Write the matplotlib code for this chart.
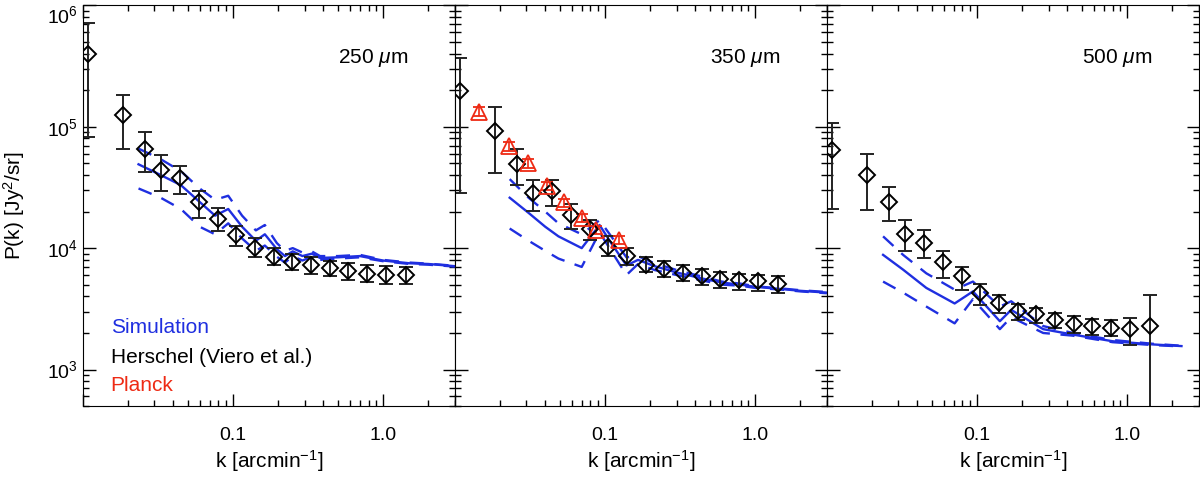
import numpy as np
import matplotlib
matplotlib.use("Agg")
import matplotlib.pyplot as plt
from matplotlib.ticker import LogLocator, FixedLocator, FixedFormatter, NullFormatter

plt.rcParams['font.family'] = ['Liberation Sans', 'DejaVu Sans']
plt.rcParams['mathtext.fontset'] = 'custom'
plt.rcParams['mathtext.rm'] = 'Liberation Sans'
plt.rcParams['mathtext.it'] = 'Liberation Sans:italic'

# Herschel (Viero et al.) band powers, same k bins in every band
k_herschel = [0.0108, 0.0184, 0.0261, 0.0332, 0.0443, 0.0594, 0.0796, 0.104, 0.141,
              0.187, 0.248, 0.333, 0.44, 0.583, 0.781, 1.05, 1.41]

p250 = [3.94e5, 1.25e5, 6.6e4, 4.4e4, 3.77e4, 2.39e4, 1.75e4, 1.28e4, 1.0e4,
        8.45e3, 7.7e3, 7.3e3, 6.8e3, 6.45e3, 6.17e3, 6.0e3, 6.0e3]
p250_hi = [7.1e5, 1.82e5, 9.0e4, 5.85e4, 4.75e4, 2.98e4, 2.14e4, 1.51e4, 1.2e4,
           1.0e4, 8.9e3, 8.4e3, 7.9e3, 7.5e3, 7.2e3, 7.08e3, 7.0e3]
p250_lo = [8.2e4, 6.6e4, 4.2e4, 2.98e4, 2.78e4, 1.77e4, 1.39e4, 1.05e4, 8.45e3,
           7.2e3, 6.6e3, 6.1e3, 5.85e3, 5.5e3, 5.26e3, 5.1e3, 5.05e3]

p350 = [1.98e5, 9.3e4, 4.9e4, 2.87e4, 2.98e4, 1.88e4, 1.44e4, 1.03e4, 8.67e3,
        7.2e3, 6.73e3, 6.24e3, 5.93e3, 5.57e3, 5.5e3, 5.33e3, 5.07e3]
p350_hi = [3.65e5, 1.44e5, 6.5e4, 3.65e4, 3.65e4, 2.32e4, 1.71e4, 1.25e4, 1.0e4,
           8.45e3, 7.9e3, 7.2e3, 6.78e3, 6.3e3, 6.12e3, 6.0e3, 5.85e3]
p350_lo = [2.87e4, 4.14e4, 3.32e4, 2.04e4, 2.24e4, 1.44e4, 1.17e4, 8.67e3, 7.2e3,
           6.3e3, 5.74e3, 5.33e3, 4.94e3, 4.67e3, 4.55e3, 4.4e3, 4.28e3]

p500 = [6.45e4, 4.0e4, 2.42e4, 1.31e4, 1.11e4, 7.63e3, 5.86e3, 4.28e3, 3.54e3,
        3.02e3, 2.84e3, 2.55e3, 2.35e3, 2.27e3, 2.2e3, 2.14e3, 2.3e3]
p500_hi = [1.08e5, 5.93e4, 3.18e4, 1.69e4, 1.4e4, 9.5e3, 7.0e3, 5.1e3, 4.14e3,
           3.49e3, 3.22e3, 2.93e3, 2.75e3, 2.63e3, 2.58e3, 2.66e3, 4.08e3]
p500_lo = [2.1e4, 2.07e4, 1.66e4, 9.4e3, 8.3e3, 5.68e3, 4.55e3, 3.43e3, 2.93e3,
           2.55e3, 2.43e3, 2.2e3, 2.0e3, 1.94e3, 1.9e3, 1.58e3, 1e2]

# Planck points (350 micron panel only)
k_planck = [0.0145, 0.0229, 0.0308, 0.0408, 0.0532, 0.0698, 0.0877, 0.1236]
p_planck = [1.33e5, 6.9e4, 5.0e4, 3.26e4, 2.38e4, 1.77e4, 1.42e4, 1.17e4]
p_planck_hi = [1.45e5, 7.5e4, 5.4e4, 3.5e4, 2.56e4, 1.91e4, 1.53e4, 1.26e4]
p_planck_lo = [1.22e5, 6.3e4, 4.6e4, 3.0e4, 2.2e4, 1.63e4, 1.31e4, 1.08e4]

# Simulation: mean (solid) and upper / lower (dashed)
k_sim250 = [0.0235, 0.033, 0.045, 0.060, 0.076, 0.093, 0.115, 0.142, 0.163, 0.196,
            0.222, 0.25, 0.29, 0.335, 0.38, 0.5, 0.7, 1.0, 1.5, 2.0, 3.0]
sim250 = [4.9e4, 4.0e4, 3.3e4, 2.4e4, 1.85e4, 2.1e4, 1.5e4, 1.15e4, 1.3e4, 9.8e3,
          8.6e3, 9.4e3, 8.6e3, 9.0e3, 8.3e3, 8.4e3, 8.6e3, 7.9e3, 7.5e3, 7.4e3, 7.1e3]
sim250_up = [6.6e4, 5.4e4, 4.3e4, 3.1e4, 2.5e4, 2.7e4, 1.85e4, 1.4e4, 1.55e4, 1.1e4,
             9.5e3, 1.0e4, 9.2e3, 9.4e3, 8.6e3, 8.6e3, 8.8e3, 8.0e3, 7.6e3, 7.45e3, 7.15e3]
sim250_dn = [3.1e4, 2.6e4, 2.1e4, 1.5e4, 1.3e4, 1.6e4, 1.2e4, 9.5e3, 1.05e4, 8.5e3,
             7.6e3, 8.6e3, 7.9e3, 8.5e3, 8.0e3, 8.2e3, 8.4e3, 7.8e3, 7.4e3, 7.3e3, 7.05e3]

k_sim350 = [0.0232, 0.031, 0.040, 0.049, 0.070, 0.092, 0.11, 0.139, 0.166, 0.214,
            0.3, 0.45, 0.6, 0.8, 1.0, 1.5, 2.0, 3.0]
sim350 = [2.6e4, 1.95e4, 1.5e4, 1.25e4, 1.0e4, 1.55e4, 1.1e4, 7.2e3, 8.0e3, 7.1e3,
          6.3e3, 5.6e3, 5.2e3, 5.0e3, 4.8e3, 4.6e3, 4.45e3, 4.3e3]
sim350_up = [3.7e4, 2.6e4, 2.0e4, 1.6e4, 1.3e4, 1.7e4, 1.25e4, 8.4e3, 8.6e3, 7.5e3,
             6.6e3, 5.8e3, 5.3e3, 5.1e3, 4.85e3, 4.65e3, 4.5e3, 4.35e3]
sim350_dn = [1.45e4, 1.15e4, 9.5e3, 8.2e3, 7.0e3, 1.35e4, 9.5e3, 6.0e3, 7.4e3, 6.6e3,
             6.0e3, 5.4e3, 5.0e3, 4.9e3, 4.7e3, 4.55e3, 4.4e3, 4.25e3]

k_sim500 = [0.0237, 0.0322, 0.046, 0.071, 0.094, 0.142, 0.169, 0.276, 0.436, 0.80, 1.48, 2.3]
sim500 = [8.8e3, 6.65e3, 4.7e3, 3.5e3, 4.4e3, 2.5e3, 3.1e3, 2.15e3, 1.94e3, 1.71e3, 1.61e3, 1.56e3]
sim500_up = [1.25e4, 8.8e3, 6.2e3, 4.55e3, 5.3e3, 3.3e3, 3.65e3, 2.28e3, 2.0e3, 1.75e3, 1.63e3, 1.57e3]
sim500_dn = [5.3e3, 4.3e3, 3.3e3, 2.4e3, 3.8e3, 2.15e3, 2.7e3, 2.0e3, 1.9e3, 1.68e3, 1.59e3, 1.55e3]

bands = ['250 $\\mu$m', '350 $\\mu$m', '500 $\\mu$m']

BLUE = '#1f2fe0'
RED = '#ee2a14'

panels = [
    (k_sim250, sim250, sim250_up, sim250_dn, p250, p250_lo, p250_hi),
    (k_sim350, sim350, sim350_up, sim350_dn, p350, p350_lo, p350_hi),
    (k_sim500, sim500, sim500_up, sim500_dn, p500, p500_lo, p500_hi),
]

fig, axes = plt.subplots(1, 3, figsize=(12, 4.8), dpi=100, sharey=True)
fig.subplots_adjust(left=0.069, right=0.999, bottom=0.154, top=0.989, wspace=0)

for i, (ax, pan) in enumerate(zip(axes, panels)):
    ks, s, su, sd, p, plo, phi = pan
    ax.plot(ks, s, color=BLUE, lw=1.7)
    ax.plot(ks, su, color=BLUE, lw=1.7, dashes=(6, 4.5))
    ax.plot(ks, sd, color=BLUE, lw=1.7, dashes=(6, 4.5))

    p = np.array(p)
    yerr = [p - np.array(plo), np.array(phi) - p]
    ax.errorbar(k_herschel, p, yerr=yerr, fmt='D', ms=8, mfc='none', mec='black',
                mew=1.4, ecolor='#222222', elinewidth=1.4, capsize=5, capthick=1.4)

    if i == 1:
        pp = np.array(p_planck)
        perr = [pp - np.array(p_planck_lo), np.array(p_planck_hi) - pp]
        ax.errorbar(k_planck, pp, yerr=perr, fmt='^', ms=11, mfc='none', mec=RED,
                    mew=1.3, ecolor=RED, elinewidth=1.2, capsize=4.5, capthick=1.2)

    ax.set_xscale('log')
    ax.set_yscale('log')
    ax.set_xlim(0.01, 3.0)
    ax.set_ylim(500, 1e6)

    ax.xaxis.set_major_locator(FixedLocator([0.01, 0.1, 1.0]))
    ax.xaxis.set_major_formatter(FixedFormatter(['', '0.1', '1.0']))
    ax.xaxis.set_minor_locator(LogLocator(base=10, subs=np.arange(2, 10)))
    ax.xaxis.set_minor_formatter(NullFormatter())
    ax.yaxis.set_minor_locator(LogLocator(base=10, subs=np.arange(2, 10)))
    ax.yaxis.set_minor_formatter(NullFormatter())
    ax.tick_params(which='both', direction='in', top=True, right=True,
                   labelsize=14, width=1)
    ax.tick_params(which='major', length=9)
    ax.tick_params(which='minor', length=4.5)
    ax.tick_params(axis='x', which='major', pad=15)
    if i > 0:
        ax.tick_params(labelleft=False)

    ax.set_xlabel('k [arcmin$^{-1}$]', fontsize=15)
    ax.xaxis.set_label_coords(0.5, -0.105)
    ax.text(0.78, 0.868, bands[i], transform=ax.transAxes, fontsize=15,
            ha='center', va='center')

axes[0].set_ylabel('P(k) [Jy$^2$/sr]', fontsize=15)
axes[0].yaxis.set_label_coords(-0.15, 0.5)
axes[0].text(0.075, 0.197, 'Simulation', color=BLUE, transform=axes[0].transAxes,
             fontsize=15, va='center')
axes[0].text(0.075, 0.122, 'Herschel (Viero et al.)', color='black',
             transform=axes[0].transAxes, fontsize=15, va='center')
axes[0].text(0.075, 0.052, 'Planck', color=RED, transform=axes[0].transAxes,
             fontsize=15, va='center')

# keep the top 10^6 label inside the figure, like the original
fig.canvas.draw()
for tick in axes[0].yaxis.get_major_ticks():
    if np.isclose(tick.get_loc(), 1e6):
        tick.label1.set_verticalalignment('top')

fig.savefig('out.png', dpi=100)
